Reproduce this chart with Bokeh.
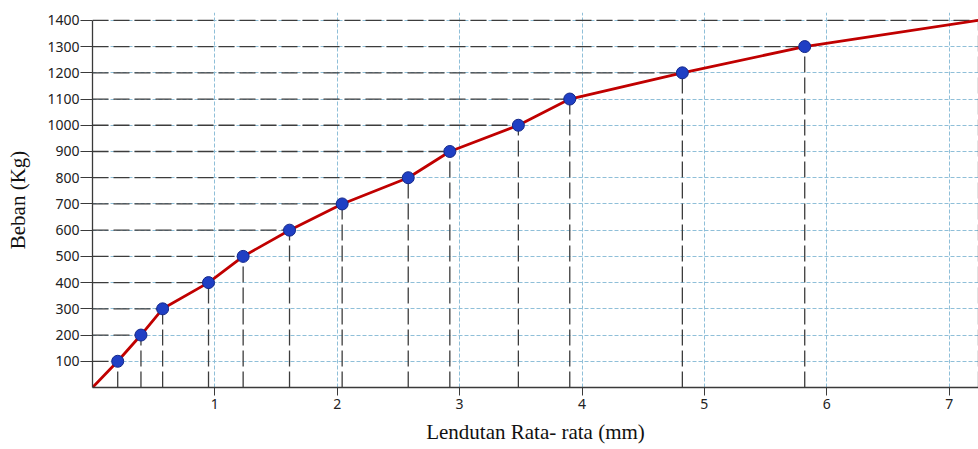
from bokeh.plotting import figure
from bokeh.models import Range1d, FixedTicker, ColumnDataSource
from bokeh.embed import file_html
from bokeh.resources import INLINE

# Data
deflection = [0.0, 0.206, 0.396, 0.573, 0.948, 1.231, 1.61, 2.04, 2.58, 2.92, 3.48, 3.90, 4.82, 5.82, 7.24]
load = [0, 100, 200, 300, 400, 500, 600, 700, 800, 900, 1000, 1100, 1200, 1300, 1400]
marker_x = deflection[1:-1]
marker_y = load[1:-1]
x_ticks = [1, 2, 3, 4, 5, 6, 7]
y_ticks = [100, 200, 300, 400, 500, 600, 700, 800, 900, 1000, 1100, 1200, 1300, 1400]

p = figure(width=978, height=449, output_backend="svg", toolbar_location=None,
           x_range=Range1d(0, 7.24), y_range=Range1d(0, 1430),
           min_border_left=92, min_border_right=0, min_border_top=12, min_border_bottom=62)
p.outline_line_color = None
p.background_fill_color = "white"

# grid
p.xgrid.ticker = FixedTicker(ticks=x_ticks)
p.ygrid.ticker = FixedTicker(ticks=y_ticks)
for g in (p.xgrid, p.ygrid):
    g.grid_line_color = "#8fbfd8"
    g.grid_line_dash = "4 2"
    g.grid_line_width = 1

# axes
p.xaxis.ticker = FixedTicker(ticks=x_ticks)
p.yaxis.ticker = FixedTicker(ticks=y_ticks)
p.yaxis.bounds = (0, 1400)
for ax in (p.xaxis, p.yaxis):
    ax.axis_line_color = "#3a3a3a"
    ax.axis_line_width = 1.3
    ax.major_tick_line_color = "#3a3a3a"
    ax.minor_tick_line_color = None
    ax.major_tick_in = 0
    ax.major_label_text_font = "Noto Sans"
    ax.major_label_text_font_size = "14px"
    ax.major_label_text_color = "#222222"
    ax.axis_label_text_font = "Liberation Serif"
    ax.axis_label_text_font_size = "21px"
    ax.axis_label_text_font_style = "normal"
    ax.axis_label_text_color = "#111111"
p.xaxis.major_tick_out = 8
p.yaxis.major_tick_out = 12
p.xaxis.major_label_standoff = 3
p.yaxis.major_label_standoff = 1
p.xaxis.axis_label = "Lendutan Rata- rata (mm)"
p.yaxis.axis_label = "Beban (Kg)"
p.xaxis.axis_label_standoff = 8
p.yaxis.axis_label_standoff = 14

# dashed connectors
conn = ColumnDataSource(dict(x=deflection[1:], y=load[1:], z=[0] * (len(load) - 1)))
p.segment(x0="z", y0="y", x1="x", y1="y", source=conn, line_color="#3c3c3c",
          line_dash="16 5", line_width=1.3)
p.segment(x0="x", y0="z", x1="x", y1="y", source=conn, line_color="#3c3c3c",
          line_dash="16 5", line_width=1.3)

# curve
p.line(deflection, load, line_color="#c00000", line_width=2.8)
p.scatter(marker_x, marker_y, size=12, fill_color="#1f3fc4", line_color="#14288a", line_width=1)

open("out.html", "w").write(file_html(p, INLINE))
